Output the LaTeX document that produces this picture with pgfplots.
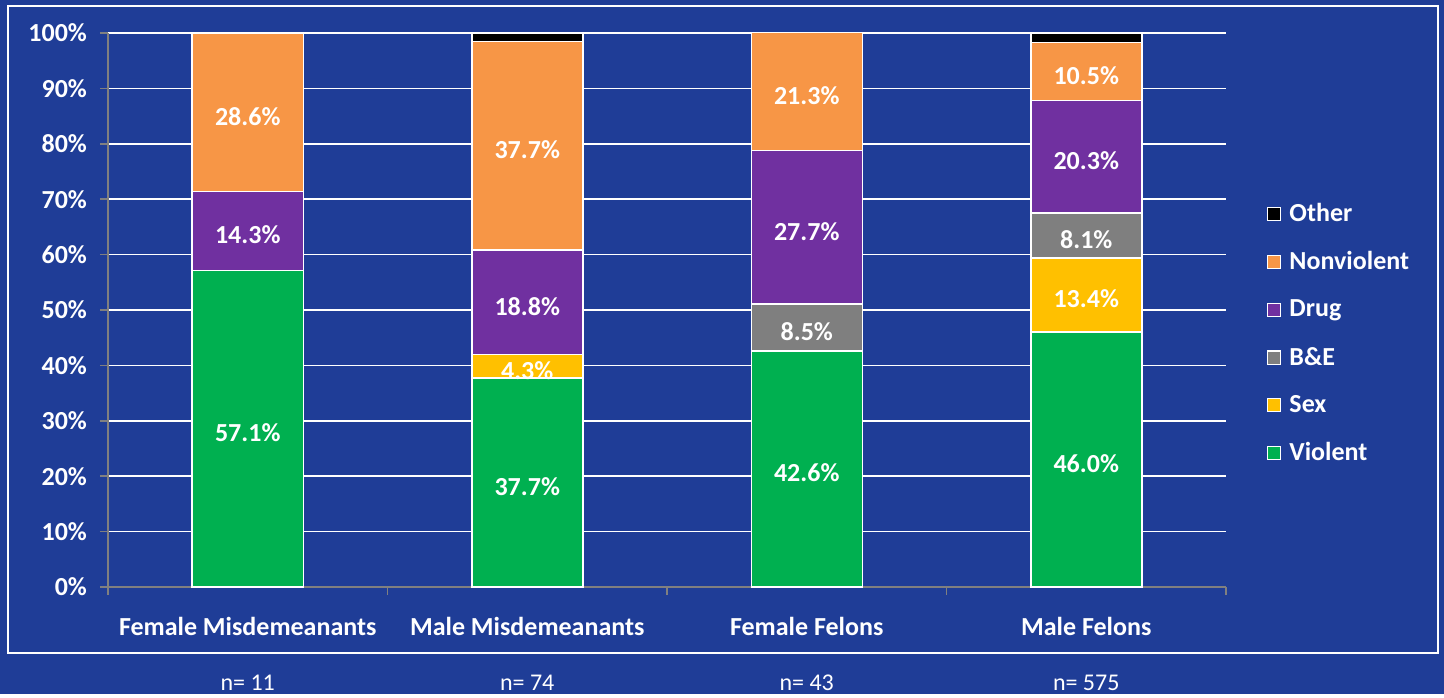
\documentclass[border=0pt]{standalone}
\usepackage{pgfplots}
\pgfplotsset{compat=1.18}
\usepackage{fontspec}
\setmainfont{Carlito}
\definecolor{bgblue}{RGB}{31,61,151}
\definecolor{cviol}{RGB}{0,176,80}
\definecolor{csex}{RGB}{255,192,0}
\definecolor{cbe}{RGB}{127,127,127}
\definecolor{cdrug}{RGB}{112,48,160}
\definecolor{cnon}{RGB}{247,150,70}
\definecolor{axgray}{RGB}{128,128,128}
\pgfplotsset{
  lbl/.style={
    nodes near coords={\pgfmathfloatifflags{\pgfplotspointmeta}{0}{}{\pgfmathprintnumber[fixed,fixed zerofill,precision=1]{\pgfplotspointmeta}\%}},
    every node near coord/.append style={font=\fontsize{13}{15}\selectfont\bfseries, text=white, anchor=center, yshift=-2pt},
  },
}
\begin{document}
\begin{tikzpicture}
\fill[bgblue] (-54pt,-53.5pt) rectangle (668pt,293.5pt);
\draw[white, line width=1pt] (-50pt,-33pt) rectangle (665pt,290.5pt);
\begin{axis}[
  at={(0,0)}, anchor=south west,
  scale only axis, width=559pt, height=277pt,
  ybar stacked, bar width=55.5pt,
  xmin=-0.5, xmax=3.5, ymin=0, ymax=100,
  clip=false,
  axis x line*=bottom, axis y line*=left,
  axis line style={axgray, line width=0.8pt},
  xtick={-0.5,0.5,1.5,2.5,3.5},
  xticklabels={},
  extra x ticks={0,1,2,3},
  extra x tick labels={Female Misdemeanants, Male Misdemeanants, Female Felons, Male Felons},
  extra x tick style={major tick length=0pt, tick style={draw=none}, xticklabel style={yshift=-11.5pt}},
  ytick={0,10,...,100},
  yticklabel={\pgfmathprintnumber{\tick}\%},
  tick align=outside,
  major tick length=4pt,
  tick style={axgray, line width=0.8pt},
  ymajorgrids, grid style={white, line width=0.8pt},
  tick label style={font=\fontsize{13}{15}\selectfont\bfseries, text=white},
  yticklabel style={xshift=-3pt},
  /pgf/number format/assume math mode=true,
  every axis plot/.append style={draw=white, line width=0.75pt},
  legend image code/.code={\draw[#1, draw=white, line width=0.6pt] (0pt,-3.3pt) rectangle (6.6pt,3.3pt);},
  reverse legend,
  legend cell align=left,
  legend style={at={(1.031,0.708)}, anchor=north west, draw=none, fill=none, text=white,
    font=\fontsize{13}{15}\selectfont\bfseries, row sep=9.6pt,
    /tikz/every odd column/.append style={column sep=2pt}},
]
\addplot[fill=cviol, lbl] coordinates {(0,57.1) (1,37.7) (2,42.6) (3,46.0)};
\addplot[fill=csex, lbl] coordinates {(0,0) (1,4.3) (2,0) (3,13.4)};
\addplot[fill=cbe, lbl] coordinates {(0,0) (1,0) (2,8.5) (3,8.1)};
\addplot[fill=cdrug, lbl] coordinates {(0,14.3) (1,18.8) (2,27.7) (3,20.3)};
\addplot[fill=cnon, lbl] coordinates {(0,28.6) (1,37.7) (2,21.3) (3,10.5)};
\addplot[fill=black] coordinates {(0,0) (1,1.5) (2,0) (3,1.7)};
\legend{Violent, Sex, B\&E, Drug, Nonviolent, Other}
\node[text=white, font=\fontsize{12}{14}\selectfont] at (axis cs:0,0) [yshift=-48pt] {n= 11};
\node[text=white, font=\fontsize{12}{14}\selectfont] at (axis cs:1,0) [yshift=-48pt] {n= 74};
\node[text=white, font=\fontsize{12}{14}\selectfont] at (axis cs:2,0) [yshift=-48pt] {n= 43};
\node[text=white, font=\fontsize{12}{14}\selectfont] at (axis cs:3,0) [yshift=-48pt] {n= 575};
\end{axis}
\end{tikzpicture}
\end{document}
